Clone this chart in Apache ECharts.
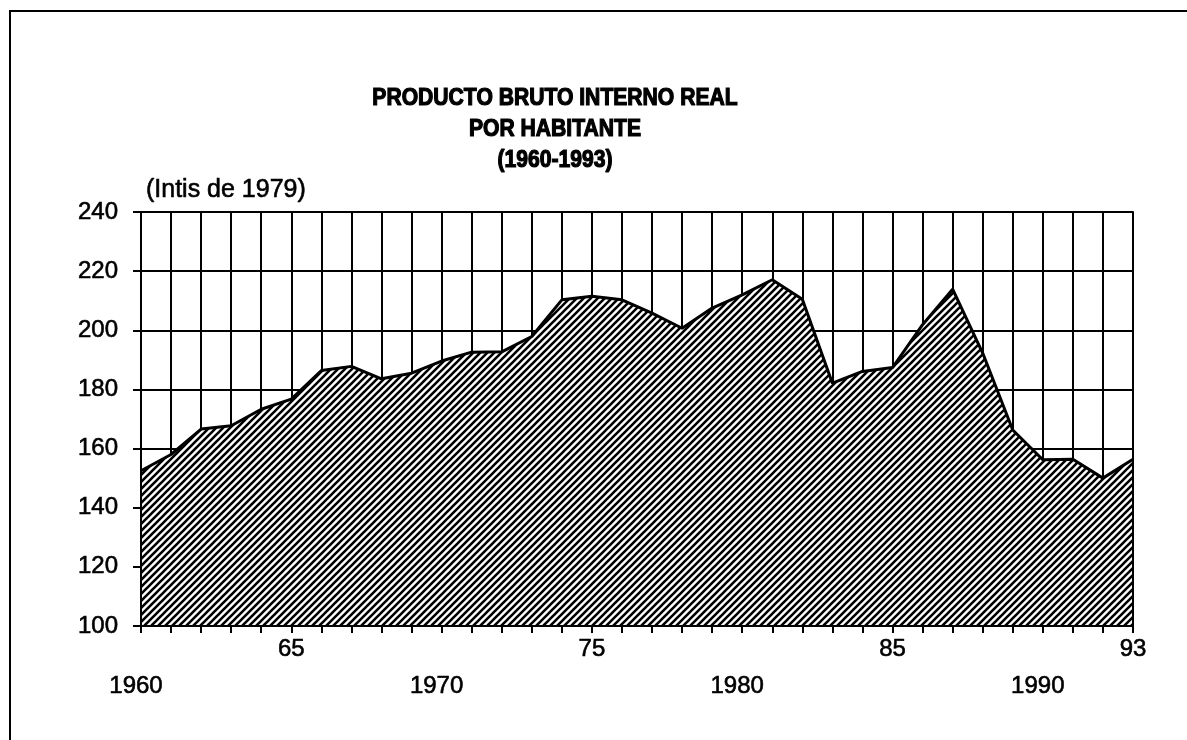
<!DOCTYPE html>
<html>
<head>
<meta charset="UTF-8">
<title>pbi-por-habitante</title>
<script src="https://cdn.jsdelivr.net/npm/echarts@6/dist/echarts.min.js"></script>
<style type="text/css">
html, body {
	margin: 0;
	padding: 0;
	background: #fff;
}

#main {
	width: 1187px;
	height: 740px;
}
</style>
</head>
<body>
	<div id="main"></div>
	<script type="text/javascript">
		// años y valores (intis de 1979)
		var years = [1960, 1961, 1962, 1963, 1964, 1965, 1966, 1967, 1968, 1969,
				1970, 1971, 1972, 1973, 1974, 1975, 1976, 1977, 1978, 1979,
				1980, 1981, 1982, 1983, 1984, 1985, 1986, 1987, 1988, 1989,
				1990, 1991, 1992, 1993];
		var pbiValues = [152.5, 158, 166.6, 167.7, 173.3, 176.7, 186.4, 187.8, 183.6, 185.5,
				189.6, 192.6, 192.7, 197.9, 210.3, 211.5, 210.3, 205.8, 200.7, 207.5,
				212, 217.1, 210.5, 182.1, 186.1, 187.4, 201.9, 213.9, 192.3, 166.3,
				156.2, 156.4, 150, 156.4];
		var upperLabels = { 1965 : '65', 1975 : '75', 1985 : '85', 1993 : '93' };
		var lowerLabels = { 1960 : '1960', 1970 : '1970', 1980 : '1980', 1990 : '1990' };
		var titleLines = [ 'PRODUCTO BRUTO INTERNO REAL', 'POR HABITANTE', '(1960-1993)' ];
		var unitLabel = '(Intis de 1979)';

		var seriesData = [];
		for ( var i = 0; i < years.length; i++) {
			seriesData.push([ years[i], pbiValues[i] ]);
		}

		/* trama rayada para el area */
		function makeHatch() {
			var s = 7;
			var c = document.createElement('canvas');
			c.width = s;
			c.height = s;
			var ctx = c.getContext('2d');
			ctx.fillStyle = '#fff';
			ctx.fillRect(0, 0, s, s);
			ctx.strokeStyle = '#000';
			ctx.lineWidth = 2.6;
			ctx.beginPath();
			ctx.moveTo(-1, s + 1);
			ctx.lineTo(s + 1, -1);
			ctx.moveTo(-2, 2);
			ctx.lineTo(2, -2);
			ctx.moveTo(s - 2, s + 2);
			ctx.lineTo(s + 2, s - 2);
			ctx.stroke();
			return c;
		}

		var fontFam = '"Liberation Sans", Arial, sans-serif';
		var blackLine = { color : '#000', width : 2 };
		// letras un poco mas gruesas, como el impreso
		var heavy = { textBorderColor : '#000', textBorderWidth : 0.6 };

		var myChart = echarts.init(document.getElementById('main'));

		var option = {
			animation : false,
			backgroundColor : '#fff',
			graphic : [ {
				type : 'polyline',
				shape : { points : [ [ 10, 740 ], [ 10, 11 ], [ 1187, 11 ] ] },
				style : { stroke : '#000', lineWidth : 2, fill : null }
			}, {
				// titulo algo condensado como en el original
				type : 'text',
				x : 555,
				y : 129,
				scaleX : 0.88,
				style : {
					text : titleLines.join('\n'),
					align : 'center',
					verticalAlign : 'middle',
					fontFamily : fontFam,
					fontSize : 24,
					fontWeight : 'bold',
					lineHeight : 31,
					fill : '#000',
					stroke : '#000',
					lineWidth : 1.2
				}
			} ],
			grid : {
				left : 141,
				top : 212,
				width : 992,
				height : 414
			},
			xAxis : [ {
				// solo lineas de la grilla
				type : 'value',
				min : 1960,
				max : 1993,
				interval : 1,
				z : 0,
				axisLine : { show : false },
				axisTick : { show : false },
				axisLabel : { show : false },
				splitLine : { show : true, lineStyle : blackLine }
			}, {
				type : 'value',
				position : 'bottom',
				min : 1960,
				max : 1993,
				interval : 1,
				z : 5,
				axisLine : { show : true, onZero : false, lineStyle : blackLine },
				axisTick : { show : true, length : 7, lineStyle : blackLine },
				splitLine : { show : false },
				axisLabel : {
					show : true,
					showMinLabel : true,
					showMaxLabel : true,
					margin : 5,
					fontFamily : fontFam,
					fontSize : 24,
					lineHeight : 37,
					color : '#000',
					textBorderColor : heavy.textBorderColor,
					textBorderWidth : heavy.textBorderWidth,
					formatter : function(v) {
						if (upperLabels[v]) {
							return upperLabels[v];
						}
						if (lowerLabels[v]) {
							return '\n{low|' + lowerLabels[v] + '}';
						}
						return '';
					},
					rich : {
						low : {
							fontFamily : fontFam,
							fontSize : 24,
							lineHeight : 37,
							color : '#000',
							textBorderColor : heavy.textBorderColor,
							textBorderWidth : heavy.textBorderWidth,
							padding : [ 0, 10, 0, 0 ]
						}
					}
				}
			} ],
			yAxis : [ {
				type : 'value',
				min : 100,
				max : 240,
				interval : 20,
				z : 0,
				axisLine : { show : false },
				axisTick : { show : false },
				axisLabel : { show : false },
				splitLine : { show : true, lineStyle : blackLine }
			}, {
				type : 'value',
				position : 'left',
				min : 100,
				max : 240,
				interval : 20,
				z : 5,
				name : unitLabel,
				nameLocation : 'end',
				nameGap : 9,
				nameTextStyle : {
					align : 'left',
					padding : [ 0, 0, 0, 5 ],
					fontFamily : fontFam,
					fontSize : 25,
					color : '#000',
					textBorderColor : heavy.textBorderColor,
					textBorderWidth : heavy.textBorderWidth
				},
				axisLine : { show : true, onZero : false, lineStyle : blackLine },
				axisTick : { show : true, length : 8, lineStyle : blackLine },
				splitLine : { show : false },
				axisLabel : {
					margin : 23,
					fontFamily : fontFam,
					fontSize : 24,
					color : '#000',
					textBorderColor : heavy.textBorderColor,
					textBorderWidth : heavy.textBorderWidth
				}
			}, {
				type : 'value',
				position : 'right',
				min : 100,
				max : 240,
				interval : 20,
				z : 5,
				axisLine : { show : true, onZero : false, lineStyle : blackLine },
				axisTick : { show : false },
				axisLabel : { show : false },
				splitLine : { show : false }
			} ],
			series : [ {
				type : 'line',
				xAxisIndex : 0,
				yAxisIndex : 0,
				data : seriesData,
				symbol : 'none',
				z : 2,
				lineStyle : { color : '#000', width : 3 },
				areaStyle : {
					origin : 'start',
					opacity : 1,
					color : { image : makeHatch(), repeat : 'repeat' }
				}
			} ]
		};

		myChart.setOption(option);
	</script>
</body>
</html>
